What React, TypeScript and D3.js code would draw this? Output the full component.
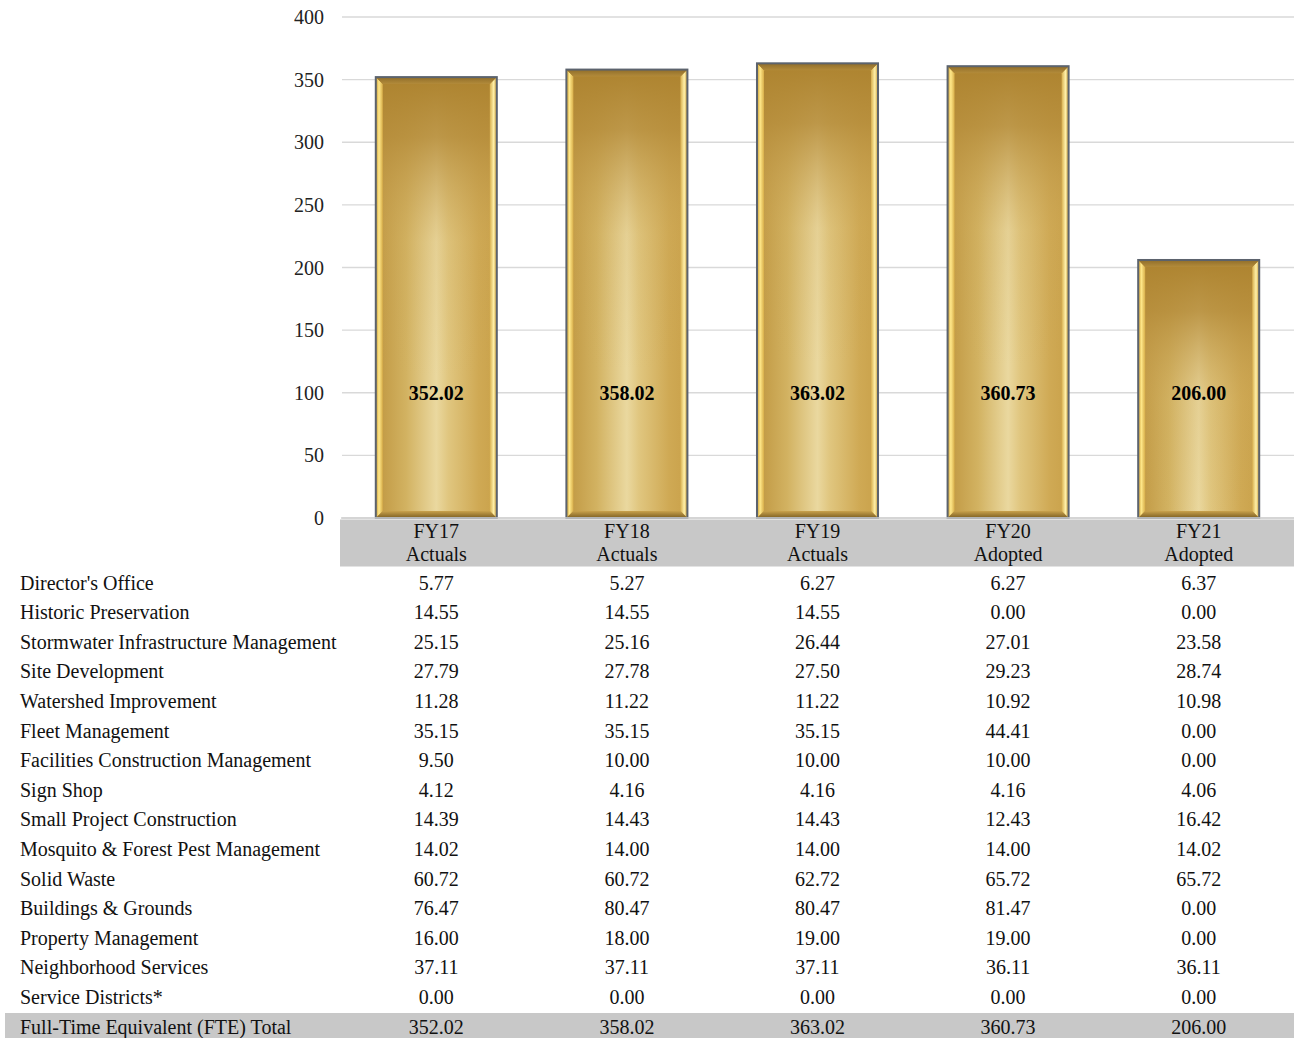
import React from "react";
import * as d3 from "d3";

const years = ["FY17", "FY18", "FY19", "FY20", "FY21"];
const yearSub = ["Actuals", "Actuals", "Actuals", "Adopted", "Adopted"];
const totals = [352.02, 358.02, 363.02, 360.73, 206.0];
const yTicks = [0, 50, 100, 150, 200, 250, 300, 350, 400];
const rowLabels = [
  "Director's Office",
  "Historic Preservation",
  "Stormwater Infrastructure Management",
  "Site Development",
  "Watershed Improvement",
  "Fleet Management",
  "Facilities Construction Management",
  "Sign Shop",
  "Small Project Construction",
  "Mosquito & Forest Pest Management",
  "Solid Waste",
  "Buildings & Grounds",
  "Property Management",
  "Neighborhood Services",
  "Service Districts*",
];
const rowValues = [
  [5.77, 5.27, 6.27, 6.27, 6.37],
  [14.55, 14.55, 14.55, 0.0, 0.0],
  [25.15, 25.16, 26.44, 27.01, 23.58],
  [27.79, 27.78, 27.5, 29.23, 28.74],
  [11.28, 11.22, 11.22, 10.92, 10.98],
  [35.15, 35.15, 35.15, 44.41, 0.0],
  [9.5, 10.0, 10.0, 10.0, 0.0],
  [4.12, 4.16, 4.16, 4.16, 4.06],
  [14.39, 14.43, 14.43, 12.43, 16.42],
  [14.02, 14.0, 14.0, 14.0, 14.02],
  [60.72, 60.72, 62.72, 65.72, 65.72],
  [76.47, 80.47, 80.47, 81.47, 0.0],
  [16.0, 18.0, 19.0, 19.0, 0.0],
  [37.11, 37.11, 37.11, 36.11, 36.11],
  [0.0, 0.0, 0.0, 0.0, 0.0],
];
const totalLabel = "Full-Time Equivalent (FTE) Total";
const labelLevel = 100;

const W = 1294;
const H = 1038;
const FONT = "Liberation Serif, DejaVu Serif, serif";
const FS = 20;

export default function App() {
  const x = d3.scaleBand<string>().domain(years).range([341, 1294]).paddingInner(0.365).paddingOuter(0.1825);
  const y = d3.scaleLinear().domain([0, 400]).range([518, 17]);
  const bw = x.bandwidth();
  const rowY0 = 583;
  const rowStep = 29.6;
  const fmt = d3.format(".2f");
  const bev = 7;

  return (
    <div style={{ position: "absolute", left: 0, top: 0 }}>
      <svg width={W} height={H} style={{ display: "block" }} fontFamily={FONT}>
        <defs>
          <linearGradient id="gH" x1="0" x2="1" y1="0" y2="0">
            <stop offset="0" stopColor="#bf9640" />
            <stop offset="0.25" stopColor="#d2b261" />
            <stop offset="0.5" stopColor="#ead89f" />
            <stop offset="0.6" stopColor="#e0c67f" />
            <stop offset="0.85" stopColor="#cfa954" />
            <stop offset="1" stopColor="#c9a14a" />
          </linearGradient>
          <linearGradient id="gV" x1="0" x2="0" y1="0" y2="1">
            <stop offset="0" stopColor="#ad832f" stopOpacity="1" />
            <stop offset="0.2" stopColor="#b58c3a" stopOpacity="0.85" />
            <stop offset="0.55" stopColor="#c9a455" stopOpacity="0.15" />
            <stop offset="1" stopColor="#c9a455" stopOpacity="0" />
          </linearGradient>
          <linearGradient id="gL" x1="0" x2="1" y1="0" y2="0">
            <stop offset="0" stopColor="#c8972e" />
            <stop offset="0.45" stopColor="#ffe88a" />
            <stop offset="1" stopColor="#d8ae4a" />
          </linearGradient>
          <linearGradient id="gR" x1="0" x2="1" y1="0" y2="0">
            <stop offset="0" stopColor="#d8b050" />
            <stop offset="0.55" stopColor="#fff0a8" />
            <stop offset="1" stopColor="#c99a36" />
          </linearGradient>
          <linearGradient id="gB" x1="0" x2="0" y1="0" y2="1">
            <stop offset="0" stopColor="#c9a24c" />
            <stop offset="1" stopColor="#7d5f22" />
          </linearGradient>
          <linearGradient id="gT" x1="0" x2="0" y1="0" y2="1">
            <stop offset="0" stopColor="#8f6d2a" />
            <stop offset="1" stopColor="#b38b3a" />
          </linearGradient>
        </defs>

        {yTicks.map((t) => (
          <line key={t} x1={342} x2={1294} y1={y(t)} y2={y(t)} stroke="#d9d9d9" strokeWidth={1.3} />
        ))}
        {yTicks.map((t) => (
          <text key={"l" + t} x={324} y={y(t)} dy="0.35em" textAnchor="end" fontSize={FS} fill="#222" fontFamily={FONT}>
            {t}
          </text>
        ))}

        {years.map((yr, i) => {
          const x0 = x(yr)!;
          const y0 = y(totals[i]);
          const y1 = y(0);
          const h = y1 - y0;
          return (
            <g key={yr}>
              <rect x={x0} y={y0} width={bw} height={h} fill="url(#gH)" />
              <rect x={x0} y={y0} width={bw} height={Math.min(h, 300)} fill="url(#gV)" />
              <polygon
                points={`${x0},${y0} ${x0 + bev},${y0 + bev} ${x0 + bev},${y1 - bev} ${x0},${y1}`}
                fill="url(#gL)"
              />
              <polygon
                points={`${x0 + bw},${y0} ${x0 + bw - bev},${y0 + bev} ${x0 + bw - bev},${y1 - bev} ${x0 + bw},${y1}`}
                fill="url(#gR)"
              />
              <polygon
                points={`${x0},${y0} ${x0 + bw},${y0} ${x0 + bw - bev},${y0 + bev} ${x0 + bev},${y0 + bev}`}
                fill="url(#gT)"
              />
              <polygon
                points={`${x0},${y1} ${x0 + bw},${y1} ${x0 + bw - bev},${y1 - bev} ${x0 + bev},${y1 - bev}`}
                fill="url(#gB)"
              />
              <rect x={x0} y={y0} width={bw} height={h} fill="none" stroke="#5c636d" strokeWidth={2} />
              <text
                x={x0 + bw / 2}
                y={y(labelLevel)}
                dy="0.35em"
                textAnchor="middle"
                fontSize={FS}
                fontWeight="bold"
                fill="#000"
                fontFamily={FONT}
              >
                {fmt(totals[i])}
              </text>
            </g>
          );
        })}
        <line x1={341} x2={1294} y1={y(0)} y2={y(0)} stroke="#d0d0d0" strokeWidth={1.3} />

        <rect x={340} y={519.5} width={954} height={47} fill="#c8c8c8" />
        {years.map((yr, i) => (
          <g key={"h" + yr}>
            <text x={x(yr)! + bw / 2} y={538} textAnchor="middle" fontSize={FS} fill="#111" fontFamily={FONT}>
              {yr}
            </text>
            <text x={x(yr)! + bw / 2} y={561} textAnchor="middle" fontSize={FS} fill="#111" fontFamily={FONT}>
              {yearSub[i]}
            </text>
          </g>
        ))}

        {rowLabels.map((lab, r) => (
          <g key={lab}>
            <text x={20} y={rowY0 + r * rowStep} dy="0.33em" fontSize={FS} fill="#111" fontFamily={FONT}>
              {lab}
            </text>
            {rowValues[r].map((v, i) => (
              <text
                key={i}
                x={x(years[i])! + bw / 2}
                y={rowY0 + r * rowStep}
                dy="0.33em"
                textAnchor="middle"
                fontSize={FS}
                fill="#111"
                fontFamily={FONT}
              >
                {fmt(v)}
              </text>
            ))}
          </g>
        ))}

        <rect x={5} y={1013} width={1289} height={25} fill="#c8c8c8" />
        <text x={20} y={rowY0 + rowLabels.length * rowStep} dy="0.33em" fontSize={FS} fill="#111" fontFamily={FONT}>
          {totalLabel}
        </text>
        {totals.map((v, i) => (
          <text
            key={i}
            x={x(years[i])! + bw / 2}
            y={rowY0 + rowLabels.length * rowStep}
            dy="0.33em"
            textAnchor="middle"
            fontSize={FS}
            fill="#111"
            fontFamily={FONT}
          >
            {fmt(v)}
          </text>
        ))}
      </svg>
    </div>
  );
}
